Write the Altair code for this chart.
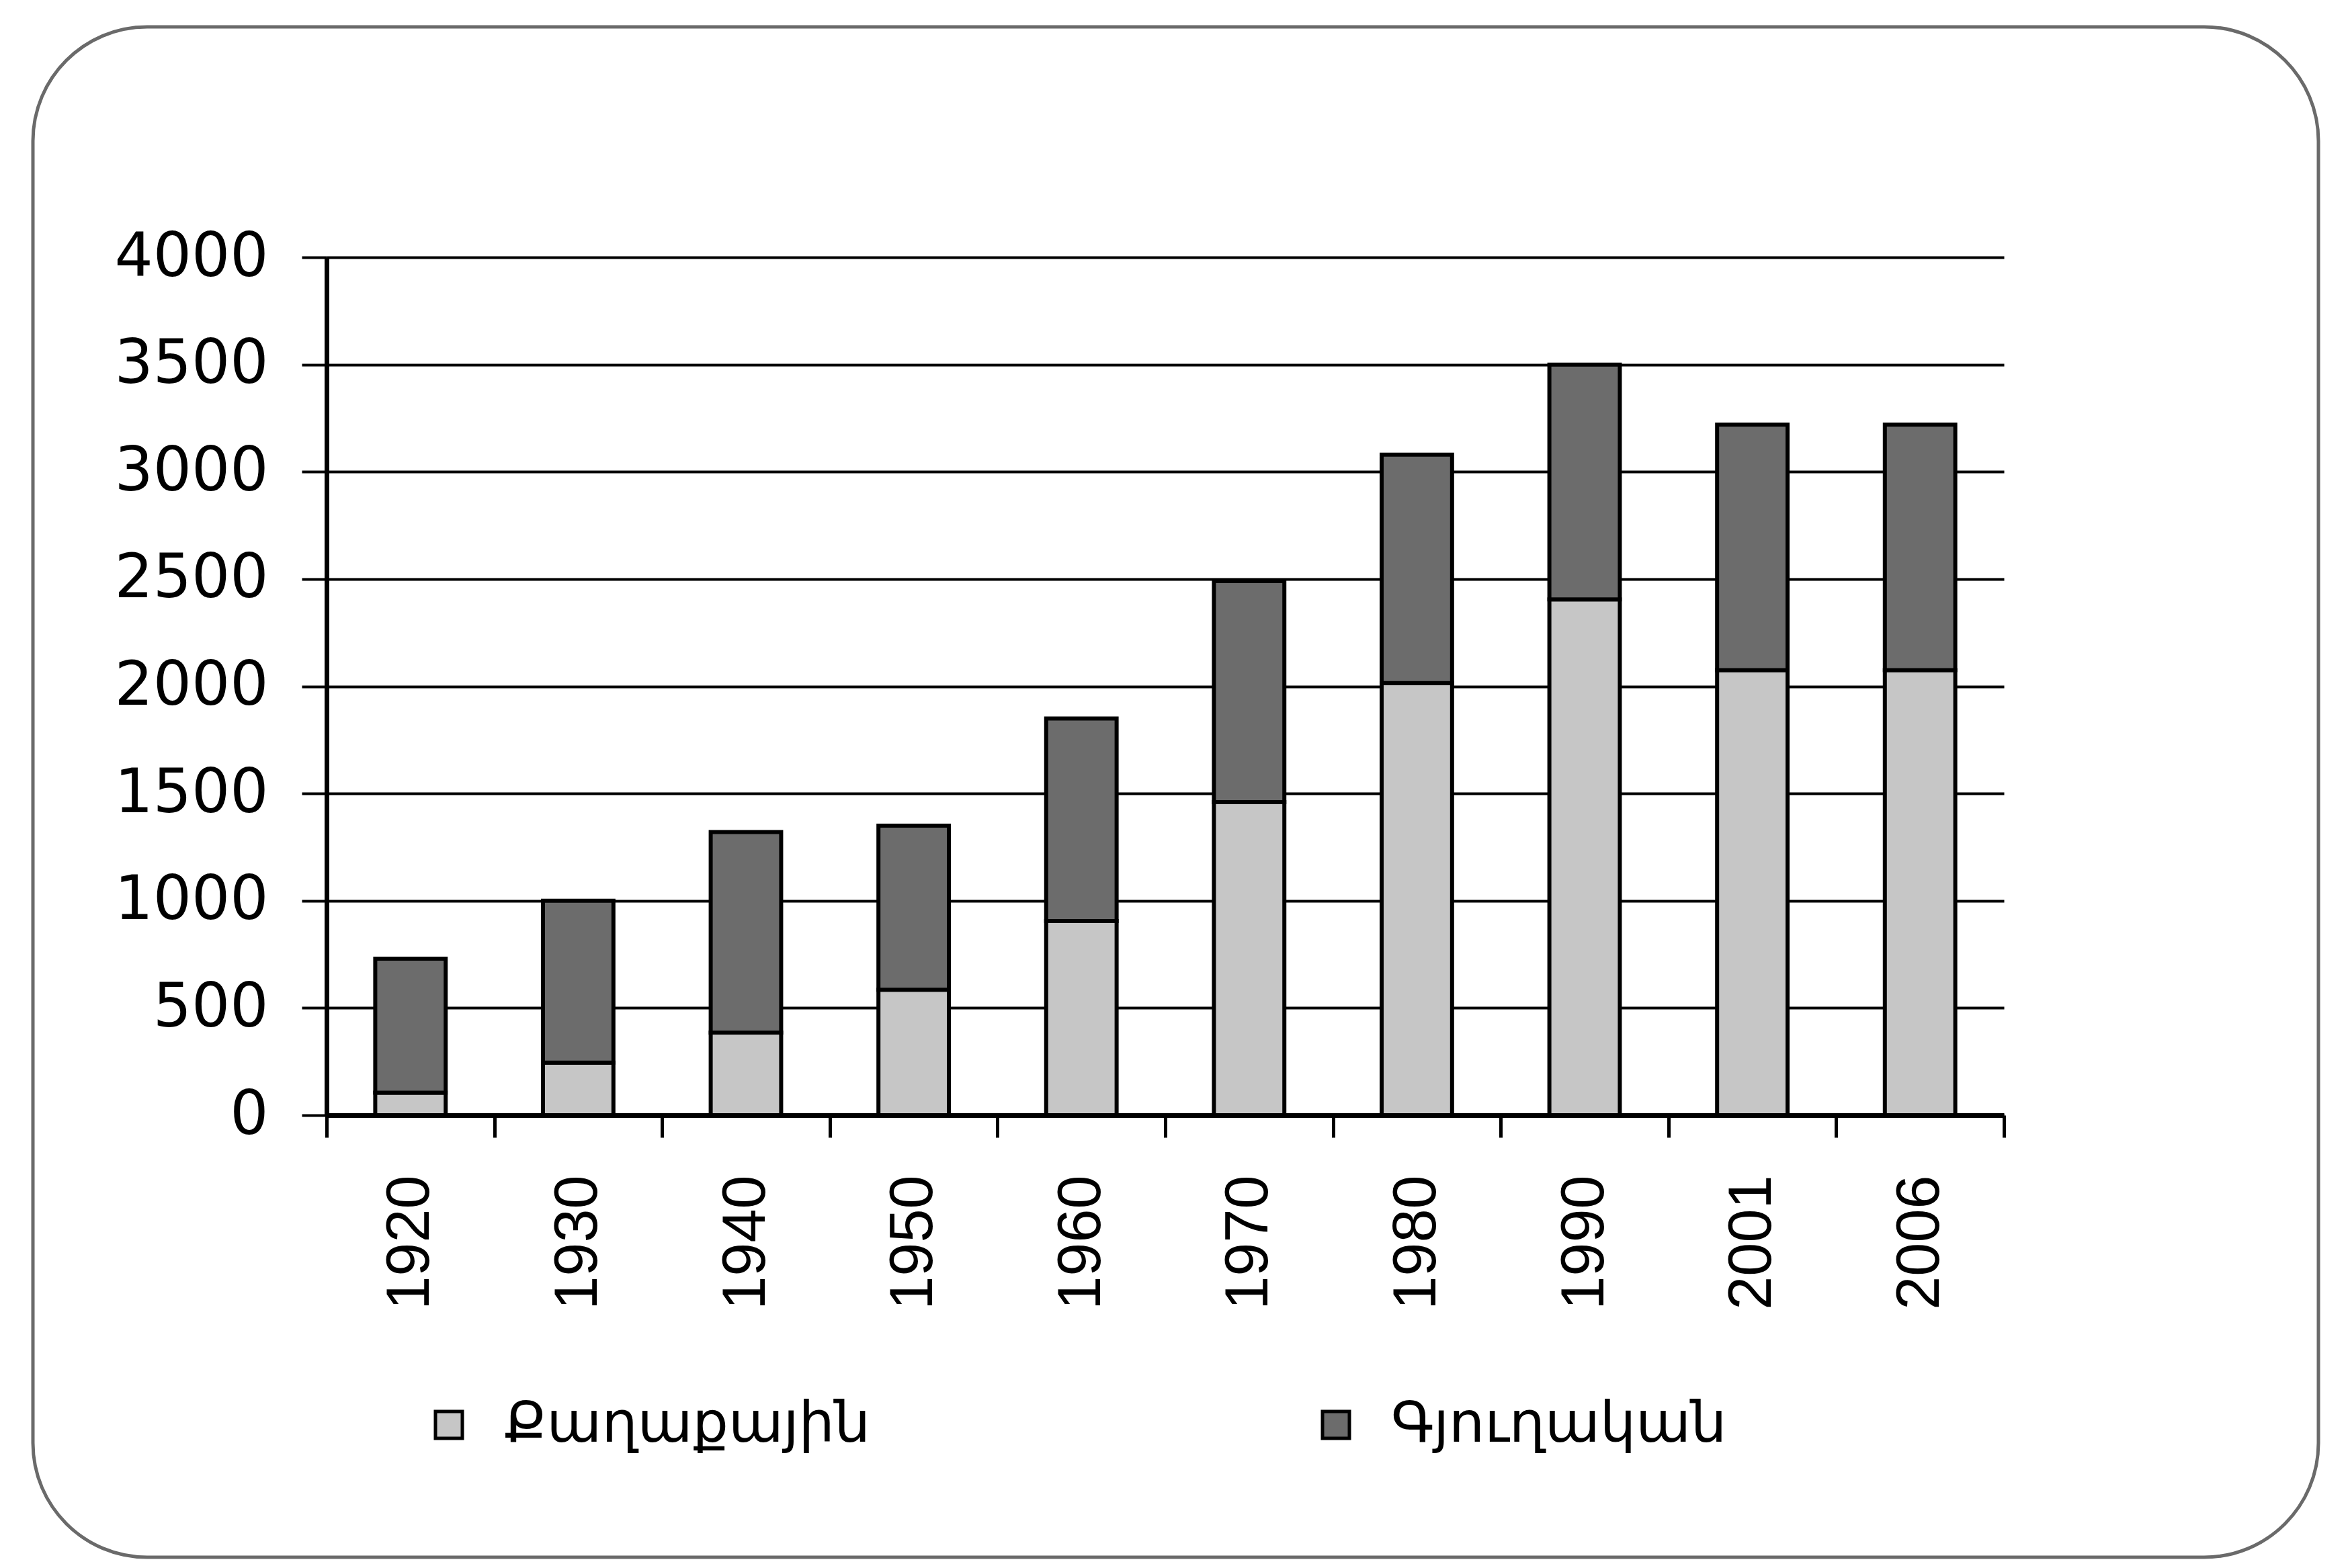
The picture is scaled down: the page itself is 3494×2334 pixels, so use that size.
import altair as alt
import pandas as pd

years = ["1920", "1930", "1940", "1950", "1960", "1970", "1980", "1990", "2001", "2006"]
urban = [105, 245, 385, 585, 905, 1460, 2015, 2405, 2075, 2075]
rural = [625, 755, 935, 765, 945, 1030, 1065, 1095, 1145, 1145]
series = ["Քաղաքային", "Գյուղական"]
colors = ["#c6c6c6", "#6c6c6c"]
y_ticks = [0, 500, 1000, 1500, 2000, 2500, 3000, 3500, 4000]

rows = []
for i, yr in enumerate(years):
    rows.append({"year": yr, "series": series[0], "value": urban[i], "order": 0})
    rows.append({"year": yr, "series": series[1], "value": rural[i], "order": 1})
df = pd.DataFrame(rows)

W, H = 2496, 1277

bars = alt.Chart(df).mark_bar(
    stroke="black", strokeWidth=6, width=alt.RelativeBandSize(0.42)
).encode(
    x=alt.X(
        "year:N",
        sort=years,
        scale=alt.Scale(paddingInner=0, paddingOuter=0),
        axis=alt.Axis(
            title=None,
            labelAngle=270,
            labelFont="Liberation Sans",
            labelFontSize=90,
            labelColor="black",
            labelPadding=56,
            labelLimit=1000,
            domainColor="black",
            domainWidth=7,
            tickColor="black",
            tickWidth=5,
            tickSize=33,
            tickBand="extent",
        ),
    ),
    y=alt.Y(
        "value:Q",
        stack="zero",
        scale=alt.Scale(domain=[0, 4000], nice=False),
        axis=alt.Axis(
            title=None,
            values=y_ticks,
            format="d",
            grid=True,
            gridColor="black",
            gridWidth=4,
            gridOpacity=1,
            labelFont="DejaVu Sans",
            labelFontSize=90,
            labelColor="black",
            labelPadding=50,
            labelLimit=1000,
            domainColor="black",
            domainWidth=7,
            tickColor="black",
            tickWidth=4,
            tickSize=37,
        ),
    ),
    color=alt.Color(
        "series:N",
        scale=alt.Scale(domain=series, range=colors),
        sort=series,
        legend=alt.Legend(
            title=None,
            orient="none",
            legendX=140,
            legendY=1696,
            direction="horizontal",
            symbolType="square",
            symbolSize=1600,
            symbolStrokeColor="black",
            symbolStrokeWidth=5,
            symbolOpacity=1,
            labelFont="DejaVu Sans",
            labelFontSize=84,
            labelColor="black",
            labelOffset=40,
            labelLimit=2000,
            columnPadding=650,
        ),
    ),
    order=alt.Order("order:Q", sort="ascending"),
)

frame = alt.Chart(pd.DataFrame({"a": [0]})).mark_rect(
    fill="transparent", stroke="#6a6a6a", strokeWidth=5, cornerRadius=170
).encode(
    x=alt.value(-437), x2=alt.value(2964), y=alt.value(-343), y2=alt.value(1935)
)

chart = alt.layer(frame, bars).properties(
    width=W,
    height=H,
    autosize=alt.AutoSizeParams(type="none"),
    padding={"left": 478, "top": 375, "right": 490, "bottom": 665},
    background="white",
).configure_view(stroke=None)

chart.save("out.html", embed_options={"renderer": "svg", "actions": False})
